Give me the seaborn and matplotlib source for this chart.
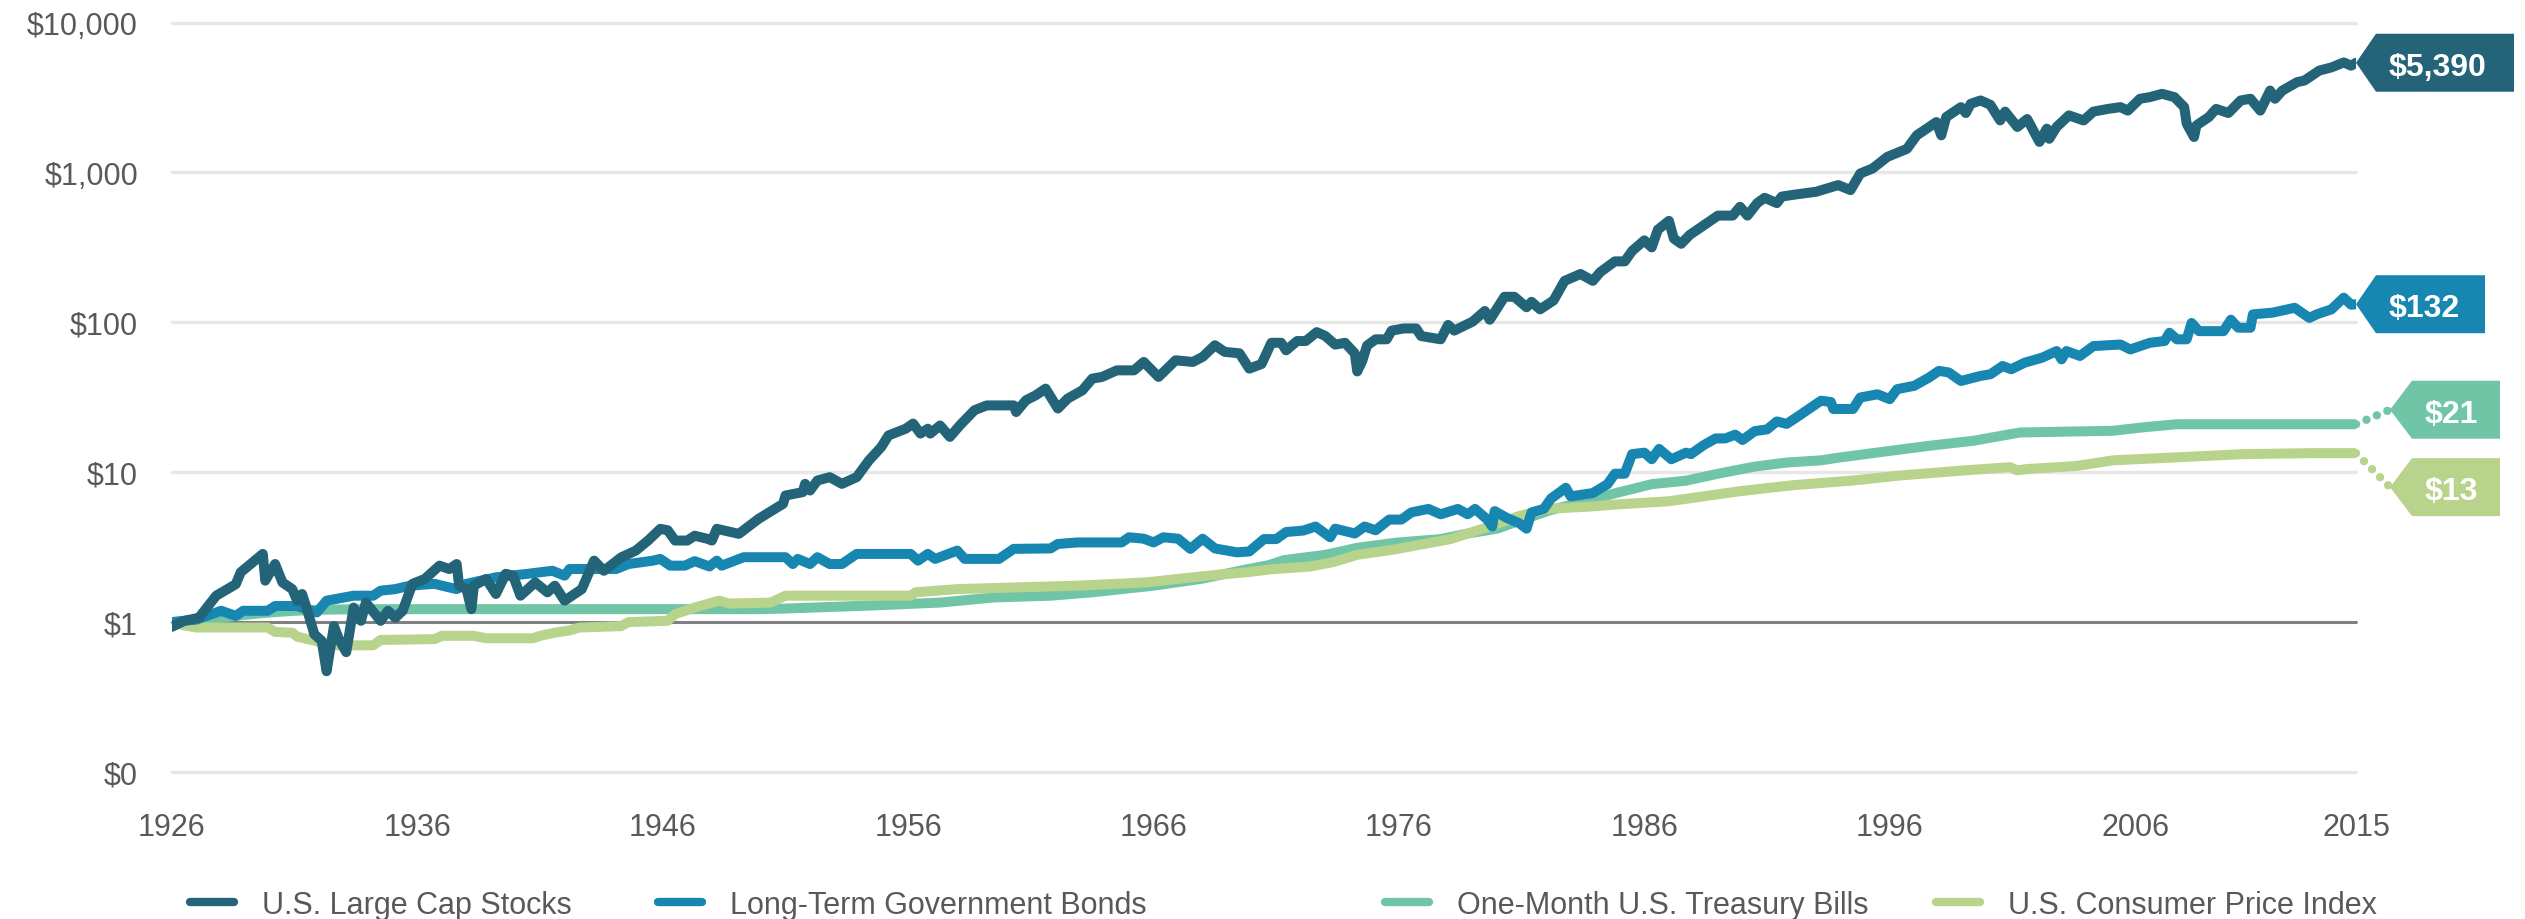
import matplotlib
matplotlib.use("Agg")
import matplotlib.pyplot as plt
import matplotlib.transforms as mtransforms
from matplotlib.patches import Polygon
from matplotlib.lines import Line2D
from matplotlib.ticker import NullLocator
import seaborn as sns

# ---- data (growth of $1, log scale) ----
stock_years = [1926.0, 1926.5, 1927.1, 1927.8, 1928.6, 1928.8, 1929.7, 1929.8, 1930.2, 1930.5,
               1930.9, 1931.1, 1931.3, 1931.5, 1931.8, 1932.1, 1932.3, 1932.6, 1932.8, 1933.1,
               1933.4, 1933.7, 1933.9, 1934.5, 1934.8, 1935.1, 1935.4, 1935.8, 1936.3, 1936.9,
               1937.3, 1937.6, 1937.7, 1938.0, 1938.2, 1938.3, 1938.8, 1939.2, 1939.6, 1939.9,
               1940.2, 1940.8, 1941.3, 1941.6, 1942.0, 1942.7, 1943.2, 1943.6, 1944.3, 1944.9,
               1945.4, 1945.9, 1946.2, 1946.5, 1947.0, 1947.3, 1947.8, 1948.0, 1948.2, 1949.1,
               1949.9, 1950.9, 1951.0, 1951.7, 1951.8, 1952.0, 1952.3, 1952.8, 1953.3, 1953.9,
               1954.4, 1954.9, 1955.2, 1955.9, 1956.2, 1956.5, 1956.8, 1956.9, 1957.3, 1957.7,
               1958.1, 1958.7, 1959.2, 1960.3, 1960.4, 1960.8, 1961.2, 1961.6, 1962.1, 1962.5,
               1963.1, 1963.5, 1963.9, 1964.5, 1965.2, 1965.6, 1966.2, 1966.9, 1967.6, 1968.0,
               1968.5, 1968.9, 1969.5, 1969.9, 1970.4, 1970.8, 1971.2, 1971.4, 1971.85, 1972.2,
               1972.65, 1973.0, 1973.4, 1973.8, 1974.2, 1974.3, 1974.5, 1974.7, 1975.05, 1975.5,
               1975.7, 1976.2, 1976.7, 1976.9, 1977.7, 1978.0, 1978.25, 1979.0, 1979.5, 1979.7,
               1980.3, 1980.7, 1981.2, 1981.4, 1981.75, 1982.3, 1982.75, 1983.4, 1983.9, 1984.2,
               1984.8, 1985.2, 1985.5, 1986.0, 1986.3, 1986.55, 1987.0, 1987.2, 1987.5, 1987.85,
               1989.0, 1989.6, 1989.9, 1990.2, 1990.6, 1990.9, 1991.4, 1991.6, 1992.1, 1993.0,
               1993.9, 1994.4, 1994.8, 1995.3, 1995.9, 1996.4, 1996.7, 1997.1, 1997.5, 1997.9,
               1998.1, 1998.3, 1998.9, 1999.1, 1999.3, 1999.7, 2000.1, 2000.5, 2000.7, 2001.2,
               2001.6, 2002.1, 2002.4, 2002.5, 2002.8, 2003.3, 2003.9, 2004.3, 2004.9, 2005.4,
               2005.7, 2006.2, 2006.6, 2007.1, 2007.6, 2008.0, 2008.1, 2008.4, 2008.5, 2009.0,
               2009.3, 2009.8, 2010.3, 2010.7, 2011.1, 2011.5, 2011.7, 2012.0, 2012.6, 2012.9,
               2013.5, 2014.0, 2014.5, 2014.8, 2015.0]
stocks = [0.93, 1.02, 1.07, 1.5, 1.79, 2.15, 2.85, 1.89, 2.44, 1.84,
          1.66, 1.39, 1.54, 1.22, 0.83, 0.75, 0.47, 0.94, 0.77, 0.63,
          1.25, 1.02, 1.35, 1.02, 1.19, 1.07, 1.19, 1.8, 1.94, 2.38,
          2.26, 2.44, 1.75, 1.66, 1.22, 1.75, 1.94, 1.54, 2.1, 2.04,
          1.5, 1.84, 1.58, 1.75, 1.39, 1.66, 2.57, 2.2, 2.7, 3.0,
          3.5, 4.19, 4.1, 3.5, 3.5, 3.77, 3.6, 3.5, 4.19, 3.88,
          4.88, 6.15, 6.99, 7.36, 8.36, 7.55, 8.8, 9.27, 8.36, 9.27,
          11.98, 14.7, 17.6, 19.5, 21.1, 18.1, 19.5, 18.1, 20.5, 17.2,
          20.5, 25.9, 27.9, 27.9, 25.2, 30.2, 32.6, 36.1, 26.6, 31.0,
          35.2, 42.1, 43.2, 47.8, 47.8, 54.4, 43.2, 55.8, 54.4, 58.8,
          70.3, 63.5, 62.1, 49.1, 52.7, 73.0, 73.0, 65.0, 75.0, 75.0,
          86.0, 81.0, 71.0, 73.0, 62.0, 47.0, 55.0, 70.0, 77.0, 77.0,
          88.0, 91.0, 91.0, 81.0, 77.0, 96.0, 88.0, 101.0, 119.0, 104.0,
          148.0, 148.0, 126.0, 137.0, 122.0, 140.0, 189.0, 210.0, 189.0, 216.0,
          255.0, 255.0, 299.0, 352.0, 316.0, 415.0, 475.0, 362.0, 334.0, 383.0,
          515.0, 515.0, 590.0, 515.0, 624.0, 677.0, 624.0, 690.0, 710.0, 743.0,
          823.0, 762.0, 984.0, 1062.0, 1269.0, 1370.0, 1436.0, 1767.0, 1958.0, 2167.0,
          1767.0, 2340.0, 2725.0, 2490.0, 2869.0, 3020.0, 2823.0, 2222.0, 2545.0, 2010.0,
          2270.0, 1597.0, 1958.0, 1676.0, 2010.0, 2400.0, 2222.0, 2545.0, 2653.0, 2725.0,
          2583.0, 3100.0, 3178.0, 3343.0, 3178.0, 2725.0, 2114.0, 1722.0, 2060.0, 2340.0,
          2653.0, 2490.0, 3020.0, 3100.0, 2583.0, 3516.0, 3100.0, 3516.0, 4000.0, 4100.0,
          4777.0, 5016.0, 5416.0, 5155.0, 5390.0]

bond_years = [1926.0, 1927.0, 1928.0, 1928.6, 1928.9, 1929.9, 1930.2, 1931.1, 1931.9, 1932.3,
              1933.4, 1934.2, 1934.5, 1935.1, 1935.7, 1936.7, 1937.0, 1937.6, 1938.0, 1939.2,
              1940.5, 1941.5, 1942.0, 1942.2, 1944.1, 1944.6, 1945.6, 1945.9, 1946.3, 1946.9,
              1947.3, 1947.9, 1948.2, 1948.4, 1949.3, 1951.0, 1951.3, 1951.5, 1952.0, 1952.3,
              1952.8, 1953.3, 1953.9, 1956.1, 1956.4, 1956.8, 1957.1, 1958.0, 1958.3, 1959.7,
              1960.3, 1961.8, 1962.1, 1962.9, 1964.7, 1965.0, 1965.6, 1966.0, 1966.4, 1967.0,
              1967.5, 1968.0, 1968.5, 1969.4, 1969.9, 1970.5, 1971.0, 1971.4, 1972.1, 1972.6,
              1973.2, 1973.4, 1974.2, 1974.6, 1975.05, 1975.6, 1976.1, 1976.5, 1977.2, 1977.7,
              1978.4, 1978.8, 1979.1, 1979.6, 1979.8, 1979.9, 1980.4, 1980.9, 1981.2, 1981.4,
              1981.9, 1982.2, 1982.8, 1983.0, 1983.9, 1984.5, 1984.8, 1985.2, 1985.5, 1986.0,
              1986.3, 1986.6, 1987.1, 1987.7, 1987.9, 1988.4, 1988.9, 1989.3, 1989.7, 1990.0,
              1990.5, 1991.0, 1991.4, 1991.8, 1992.3, 1993.2, 1993.6, 1993.7, 1994.5, 1994.8,
              1995.5, 1996.0, 1996.3, 1997.0, 1997.6, 1998.0, 1998.4, 1998.9, 1999.7, 2000.1,
              2000.6, 2000.95, 2001.5, 2002.2, 2002.8, 2003.0, 2003.2, 2003.75, 2004.3, 2005.4,
              2005.8, 2006.6, 2007.2, 2007.4, 2007.7, 2008.1, 2008.3, 2008.6, 2009.6, 2009.9,
              2010.2, 2010.7, 2010.8, 2011.6, 2012.5, 2013.1, 2013.4, 2014.0, 2014.5, 2014.8,
              2015.0]
bonds = [1.0, 1.04, 1.19, 1.1, 1.19, 1.19, 1.28, 1.28, 1.16, 1.39,
         1.5, 1.5, 1.62, 1.66, 1.75, 1.8, 1.75, 1.66, 1.8, 1.99,
         2.1, 2.2, 2.04, 2.26, 2.26, 2.44, 2.57, 2.64, 2.38, 2.38,
         2.55, 2.35, 2.57, 2.38, 2.71, 2.71, 2.44, 2.64, 2.44, 2.71,
         2.44, 2.44, 2.85, 2.85, 2.57, 2.85, 2.64, 3.0, 2.64, 2.64,
         3.08, 3.1, 3.32, 3.4, 3.4, 3.68, 3.6, 3.4, 3.68, 3.6,
         3.08, 3.6, 3.1, 2.92, 2.96, 3.58, 3.58, 3.99, 4.08, 4.34,
         3.68, 4.2, 3.9, 4.34, 4.1, 4.83, 4.83, 5.39, 5.69, 5.24,
         5.69, 5.24, 5.69, 4.83, 4.34, 5.5, 4.95, 4.57, 4.2, 5.39,
         5.69, 6.68, 7.87, 6.9, 7.26, 8.32, 9.77, 9.77, 13.2, 13.5,
         12.2, 14.3, 12.2, 13.5, 13.2, 15.1, 16.8, 16.8, 17.8, 16.4,
         18.8, 19.3, 21.8, 21.0, 23.8, 30.0, 29.4, 26.4, 26.4, 31.5,
         33.1, 30.7, 35.8, 37.7, 42.8, 47.4, 46.3, 40.6, 43.9, 45.0,
         51.1, 48.6, 53.8, 58.0, 64.3, 56.6, 64.3, 59.6, 69.4, 71.1,
         65.9, 73.0, 75.0, 85.2, 77.0, 77.0, 99.0, 87.3, 87.3, 104.0,
         92.0, 92.0, 113.0, 116.0, 125.0, 107.0, 113.0, 122.0, 146.0, 131.0,
         132.0]

bill_years = [1926.0, 1927.0, 1928.0, 1929.0, 1930.0, 1931.0, 1932.0, 1934.0, 1946.0, 1950.0,
              1950.9, 1954.5, 1957.3, 1959.5, 1961.8, 1963.5, 1966.0, 1968.0, 1969.8, 1970.7,
              1971.3, 1973.0, 1974.3, 1975.9, 1977.7, 1978.8, 1980.0, 1981.0, 1982.2, 1983.9,
              1984.9, 1986.3, 1987.7, 1989.0, 1990.5, 1991.8, 1993.2, 1993.9, 1995.6, 1997.6,
              1999.4, 2001.3, 2005.1, 2006.3, 2007.7, 2015.0]
bills = [1.0, 1.03, 1.07, 1.12, 1.16, 1.19, 1.21, 1.22, 1.22, 1.22,
         1.23, 1.29, 1.35, 1.46, 1.5, 1.58, 1.75, 1.95, 2.25, 2.4,
         2.59, 2.81, 3.13, 3.39, 3.58, 3.9, 4.2, 4.8, 5.6, 6.6,
         7.3, 8.32, 8.78, 9.77, 10.9, 11.6, 12.0, 12.5, 13.6, 15.0,
         16.2, 18.4, 18.9, 19.9, 20.9, 20.9]

cpi_years = [1926.0, 1926.5, 1927.0, 1929.9, 1930.2, 1930.9, 1931.1, 1932.6, 1934.2, 1934.5,
             1936.7, 1937.0, 1938.3, 1938.8, 1940.7, 1941.0, 1941.6, 1942.2, 1942.6, 1944.3,
             1944.6, 1946.2, 1946.5, 1947.3, 1948.3, 1948.7, 1950.4, 1951.0, 1956.1, 1956.3,
             1958.0, 1962.9, 1965.7, 1967.6, 1968.5, 1969.8, 1970.8, 1972.4, 1973.3, 1974.3,
             1975.8, 1978.1, 1979.7, 1980.9, 1982.0, 1983.8, 1984.9, 1987.0, 1988.4, 1989.9,
             1991.1, 1992.1, 1994.5, 1996.4, 1999.1, 2000.9, 2001.2, 2001.6, 2003.6, 2005.1,
             2007.4, 2010.4, 2013.2, 2015.0]
cpi = [1.0, 0.95, 0.92, 0.92, 0.86, 0.85, 0.8, 0.7, 0.7, 0.76,
       0.77, 0.81, 0.81, 0.78, 0.78, 0.81, 0.85, 0.88, 0.92, 0.94,
       1.0, 1.02, 1.13, 1.25, 1.39, 1.33, 1.35, 1.5, 1.5, 1.58,
       1.66, 1.75, 1.84, 1.99, 2.06, 2.15, 2.25, 2.35, 2.51, 2.81,
       3.05, 3.58, 4.34, 5.1, 5.69, 5.9, 6.1, 6.4, 6.9, 7.47,
       7.87, 8.2, 8.8, 9.5, 10.3, 10.8, 10.3, 10.5, 11.0, 12.0,
       12.5, 13.2, 13.4, 13.4]

names = ["U.S. Large Cap Stocks", "Long-Term Government Bonds",
         "One-Month U.S. Treasury Bills", "U.S. Consumer Price Index"]
end_labels = [5390, 132, 21, 13]
colors = ["#236479", "#1786b1", "#70c5a7", "#b8d38c"]

y_ticks = [0.1, 1, 10, 100, 1000, 10000]
y_labels = ["$0", "$1", "$10", "$100", "$1,000", "$10,000"]
x_ticks = [1926, 1936, 1946, 1956, 1966, 1976, 1986, 1996, 2006, 2015]

# ---- figure ----
sns.set_theme(style="white")
plt.rcParams['font.family'] = ['Liberation Sans', 'DejaVu Sans']

W, H, DPI = 2525, 920, 100
fig = plt.figure(figsize=(W / DPI, H / DPI), dpi=DPI)
ax = fig.add_axes([172 / W, 1 - 773 / H, (2356 - 172) / W, (773 - 23.5) / H])

LW = 7.2  # line width of the series, in points
series = [(bill_years, bills, colors[2], 2),
          (cpi_years, cpi, colors[3], 3),
          (bond_years, bonds, colors[1], 4),
          (stock_years, stocks, colors[0], 5)]
for xs, ys, col, z in series:
    sns.lineplot(x=xs, y=ys, ax=ax, color=col, linewidth=LW, estimator=None, sort=False,
                 solid_capstyle="round", solid_joinstyle="round", zorder=z, legend=False)

ax.set_yscale("log")
ax.set_ylim(0.1, 10000)
ax.set_xlim(1926, 2015)
ax.yaxis.set_minor_locator(NullLocator())
ax.set_yticks(y_ticks, y_labels)
ax.set_xticks(x_ticks, [str(t) for t in x_ticks])
ax.set_xlabel("")
ax.set_ylabel("")
for s in ax.spines.values():
    s.set_visible(False)
ax.tick_params(axis="both", length=0, labelsize=22, labelcolor="#58595b")
ax.tick_params(axis="y", pad=24.5)
ax.tick_params(axis="x", pad=28.5)

# gridlines and the $1 baseline
for v in y_ticks:
    if v == 1:
        ax.axhline(v, color="#808083", lw=2.2, zorder=1, clip_on=False)
    else:
        ax.axhline(v, color="#e7e7e8", lw=2.4, zorder=0, clip_on=False)

# ---- end-value tags ----
px = 1 / DPI
ends = [(stocks[-1], 0, 0, 138, 20),
        (bonds[-1], 0, 0, 109, 20),
        (bills[-1], 34, 14.5, 88, 22),
        (cpi[-1], 34, -34, 88, 22)]
for (yv, dx, dy, body_w, arr_w), lab, col in zip(ends, end_labels, colors):
    base = fig.dpi_scale_trans + mtransforms.ScaledTranslation(2015, yv, ax.transData)
    if dx:
        ax.add_line(Line2D([0, dx * px], [0, dy * px], transform=base, color=col, lw=6,
                           linestyle=(0, (0.01, 1.35)), dash_capstyle="round",
                           clip_on=False, zorder=5))
    hh = 29
    verts = [(dx, dy), (dx + arr_w, dy + hh), (dx + arr_w + body_w, dy + hh),
             (dx + arr_w + body_w, dy - hh), (dx + arr_w, dy - hh)]
    poly = Polygon([(a * px, b * px) for a, b in verts], closed=True, transform=base,
                   facecolor=col, edgecolor="none", clip_on=False, zorder=6)
    fig.add_artist(poly)
    fig.text((dx + arr_w + 13) * px, (dy - 12) * px, f"${lab:,}", transform=base,
             ha="left", va="baseline", color="white", fontsize=23, fontweight="bold",
             zorder=7)

# ---- legend (one entry per slot, as in the original) ----
leg_x = [190, 658, 1385, 1936]
for name, col, lx in zip(names, colors, leg_x):
    h = Line2D([], [], color=col, lw=6, solid_capstyle="round")
    fig.legend([h], [name], loc="center left", bbox_to_anchor=(lx / W, 1 - 906 / H),
               frameon=False, borderpad=0, borderaxespad=0, handlelength=1.44,
               handletextpad=0.92, fontsize=22, labelcolor="#58595b")

fig.savefig("out.png", dpi=DPI, facecolor="white")
